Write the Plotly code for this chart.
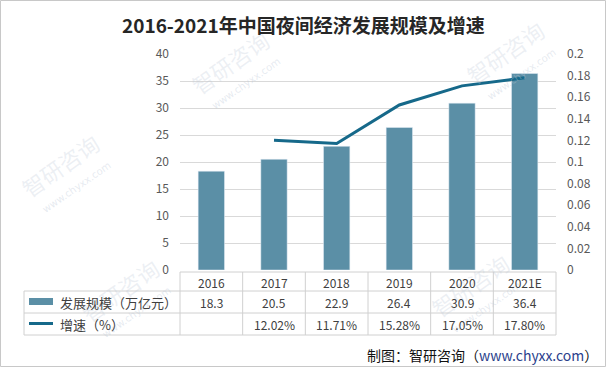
import plotly.graph_objects as go

years = ["2016", "2017", "2018", "2019", "2020", "2021E"]
scale_values = [18.3, 20.5, 22.9, 26.4, 30.9, 36.4]
growth_years = ["2017", "2018", "2019", "2020", "2021E"]
growth_pct = [12.02, 11.71, 15.28, 17.05, 17.80]
growth_labels = ["12.02%", "11.71%", "15.28%", "17.05%", "17.80%"]

title_text = "2016-2021年中国夜间经济发展规模及增速"
bar_name = "发展规模（万亿元）"
line_name = "增速（%）"
source_text = '制图：智研咨询（<span style="color:#2B3F8C">www.chyxx.com</span>）'

W, H = 606, 367
L, R, T, B = 180, 556, 54, 270
BAR_COLOR = "#5B8FA6"
LINE_COLOR = "#16698A"
TXT = "#404040"
GRID = "#D9D9D9"
FONT = "Noto Sans CJK SC"


def px(x):
    return (x - L) / (R - L)


def py(y):
    return (B - y) / (B - T)


fig = go.Figure()
fig.add_trace(go.Bar(x=years, y=scale_values, name=bar_name, marker_color=BAR_COLOR,
                     width=0.42, showlegend=False))
fig.add_trace(go.Scatter(x=growth_years, y=[g / 100 for g in growth_pct], yaxis="y2",
                         mode="lines", line=dict(color=LINE_COLOR, width=3),
                         name=line_name, showlegend=False))

shapes = []
shapes.append(dict(type="rect", xref="paper", yref="paper", x0=px(0.5), x1=px(605.5),
                   y0=py(366.5), y1=py(0.5), line=dict(color="#C8C8C8", width=1)))
tl = dict(color="#D0D0D0", width=1)
row_y = [272, 291, 313, 335]
shapes.append(dict(type="line", xref="paper", yref="paper", x0=px(L), x1=px(R),
                   y0=py(row_y[0]), y1=py(row_y[0]), line=tl))
for ry in row_y[1:]:
    shapes.append(dict(type="line", xref="paper", yref="paper", x0=px(24), x1=px(R),
                       y0=py(ry), y1=py(ry), line=tl))
shapes.append(dict(type="line", xref="paper", yref="paper", x0=px(24), x1=px(24),
                   y0=py(row_y[1]), y1=py(row_y[3]), line=tl))
ncol = len(years)
for i in range(ncol + 1):
    xx = L + i * (R - L) / ncol
    shapes.append(dict(type="line", xref="paper", yref="paper", x0=px(xx), x1=px(xx),
                       y0=py(row_y[0]), y1=py(row_y[3]), line=tl))
shapes.append(dict(type="rect", xref="paper", yref="paper", x0=px(29), x1=px(53),
                   y0=py(305), y1=py(298), fillcolor=BAR_COLOR, line=dict(width=0)))
shapes.append(dict(type="line", xref="paper", yref="paper", x0=px(29), x1=px(53),
                   y0=py(323.5), y1=py(323.5), line=dict(color=LINE_COLOR, width=3)))

ann = []
cell_font = dict(family=FONT, size=12, color=TXT)


def note(x, y, text, font, xref="paper", xanchor="center", **kw):
    ann.append(dict(x=x, y=y, xref=xref, yref="paper", text=text, showarrow=False,
                    xanchor=xanchor, yanchor="middle", font=font, **kw))


# faint watermarks first (drawn beneath the other texts)
wm_font = dict(family=FONT, size=22, color="rgba(190,200,215,0.28)")
wm_small = dict(family="DejaVu Sans", size=10, color="rgba(190,200,215,0.38)")
for (wx, wy) in [(230, 62), (505, 52), (60, 165), (120, 290), (470, 285)]:
    note(px(wx), py(wy), "智研咨询", wm_font, textangle=-35)
    note(px(wx + 16), py(wy + 22), "www.chyxx.com", wm_small, textangle=-35)

for i, (yr, v) in enumerate(zip(years, scale_values)):
    note(i, py(282), yr, cell_font, xref="x")
    note(i, py(302), f"{v}", cell_font, xref="x")
for yr, lab in zip(growth_years, growth_labels):
    note(years.index(yr), py(324), lab, cell_font, xref="x")
note(px(58), py(302), bar_name, dict(family=FONT, size=13, color=TXT), xanchor="left")
note(px(58), py(324), line_name, dict(family=FONT, size=13, color=TXT), xanchor="left")
note(px(600), py(355), source_text, dict(family=FONT, size=14, color="#111111"), xanchor="right")
note(px(303), py(24), "<b>" + title_text + "</b>", dict(family=FONT, size=19, color="#262626"))

fig.update_layout(
    width=W, height=H,
    margin=dict(l=L, r=W - R, t=T, b=H - B, pad=0),
    paper_bgcolor="white", plot_bgcolor="white",
    font=dict(family=FONT, size=12, color="#595959"),
    xaxis=dict(type="category", categoryorder="array", categoryarray=years,
               showticklabels=False, showgrid=False, zeroline=False, showline=False,
               ticks="", range=[-0.5, 5.5], automargin=False),
    yaxis=dict(range=[0, 40], dtick=5, showgrid=True, gridcolor=GRID, gridwidth=1,
               zeroline=False, showline=False, ticks="", ticklabelstandoff=10, automargin=False,
               tickfont=dict(family=FONT, size=12, color="#595959")),
    yaxis2=dict(range=[0, 0.2], dtick=0.02, overlaying="y", side="right", showgrid=False,
                zeroline=False, showline=False, ticks="", ticklabelstandoff=10, automargin=False,
                tickfont=dict(family=FONT, size=12, color="#595959")),
    shapes=shapes,
    annotations=ann,
)

fig.write_html("out.html", config={"displayModeBar": False},
               post_script="document.body.style.margin='0';")
